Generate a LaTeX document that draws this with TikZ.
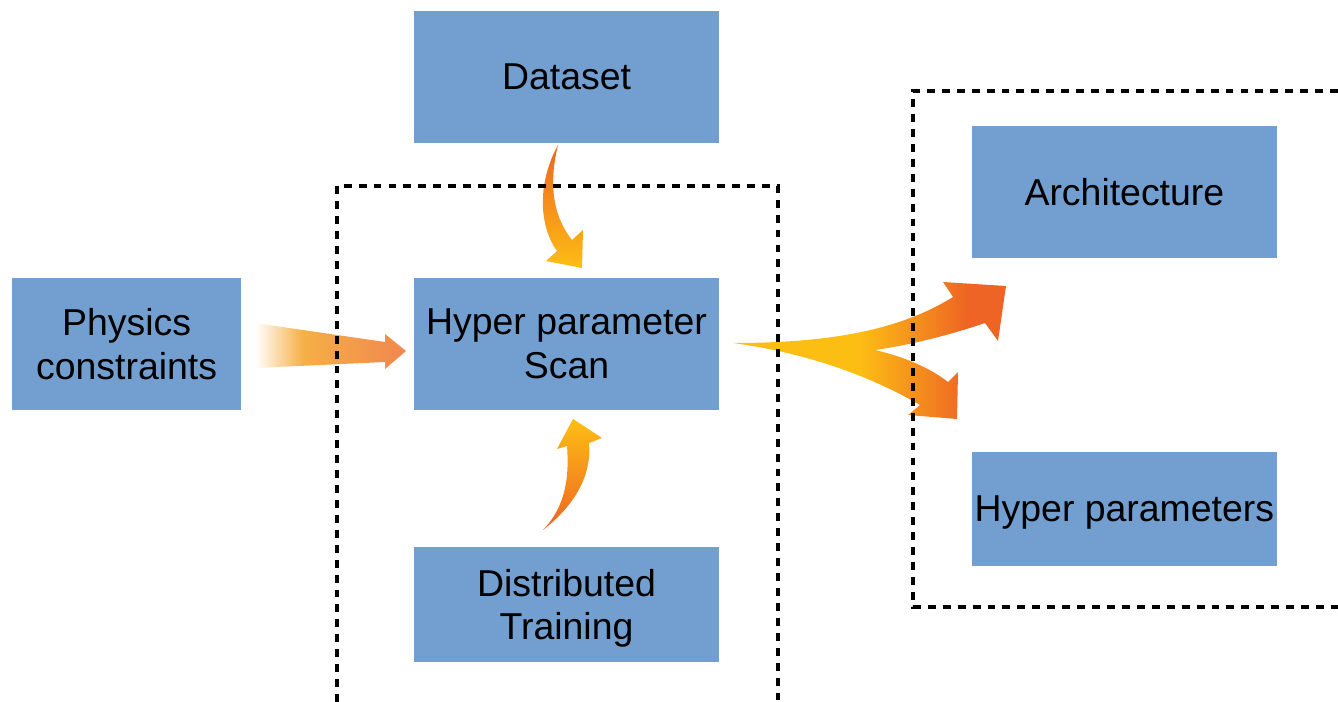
\documentclass[tikz,border=0pt]{standalone}
\usepackage{fontspec}
\setmainfont{Liberation Sans}
\usetikzlibrary{positioning}

\definecolor{boxblue}{HTML}{729FCF}
\definecolor{arrowyellow}{HTML}{FDBE14}
\definecolor{arrowred}{HTML}{EE6424}
\definecolor{arrowlight}{HTML}{F6AF46}
\definecolor{arroworange}{HTML}{F0874F}

\pgfdeclarehorizontalshading{fadein}{100bp}{color(0bp)=(white); color(25bp)=(white); color(41bp)=(arrowlight); color(75bp)=(arroworange); color(100bp)=(arroworange)}
\pgfdeclarehorizontalshading{spread}{100bp}{color(0bp)=(arrowyellow); color(48bp)=(arrowyellow); color(68bp)=(arrowred); color(100bp)=(arrowred)}

\begin{document}
\begin{tikzpicture}[
    x=0.02cm,
    y=-0.02cm,
    on grid,
    box/.style={fill=boxblue, minimum width=6.1cm, minimum height=2.64cm,
                inner sep=0pt, align=center, text depth=0pt,
                font=\fontsize{21.3}{25}\selectfont},
    frame/.style={line width=2pt, dash pattern=on 4.5pt off 4pt},
]
    \useasboundingbox (0,0) rectangle (1338,702);

    \node[box] (scan) at (566.5,344) {Hyper parameter\\Scan};
    \node[box, above=5.34cm of scan] (data) {Dataset};
    \node[box, minimum width=4.58cm, left=8.8cm of scan] (phys) {Physics\\constraints};
    \node[box, minimum height=2.3cm, below=5.21cm of scan] (train) {Distributed\\Training};
    \node[box, above right=3.04cm and 11.16cm of scan] (arch) {Architecture};
    \node[box, minimum height=2.28cm, below right=3.3cm and 11.16cm of scan] (hyper) {Hyper parameters};

    % physics -> scan
    \shade[shading=fadein]
        (255,323) -- (385,342) -- (385,334) -- (406,351) -- (385,369) -- (385,362) -- (255,368) -- cycle;

    % dataset -> scan
    \shade[top color=arrowred, bottom color=arrowyellow]
        (558,145) .. controls (536,185) and (540,228) .. (557,251)
        -- (546,261) -- (582,268) -- (583,230) -- (572,240)
        .. controls (556,220) and (547,190) .. (558,145) -- cycle;

    % training -> scan
    \shade[top color=arrowyellow, bottom color=arrowred]
        (543,530) .. controls (575,505) and (592,475) .. (589,443)
        -- (602,438) -- (573,419) -- (557,449) -- (567,446)
        .. controls (570,485) and (562,510) .. (543,530) -- cycle;

    % scan -> architecture / hyper parameters
    \shade[shading=spread]
        (733,343) .. controls (830,343) and (900,330) .. (953,297)
        -- (943,282) -- (1006,286) -- (998,341) -- (985,323)
        .. controls (950,335) and (910,345) .. (875,350)
        .. controls (905,357) and (930,368) .. (948,382)
        -- (958,372) -- (957,419) -- (908,415) -- (920,405)
        .. controls (880,382) and (820,355) .. (733,343) -- cycle;

    \draw[frame] (337,702) -- (337,186) -- (778,186) -- (778,702);
    \draw[frame] (1338,91) -- (913,91) -- (913,607) -- (1338,607);
\end{tikzpicture}
\end{document}
